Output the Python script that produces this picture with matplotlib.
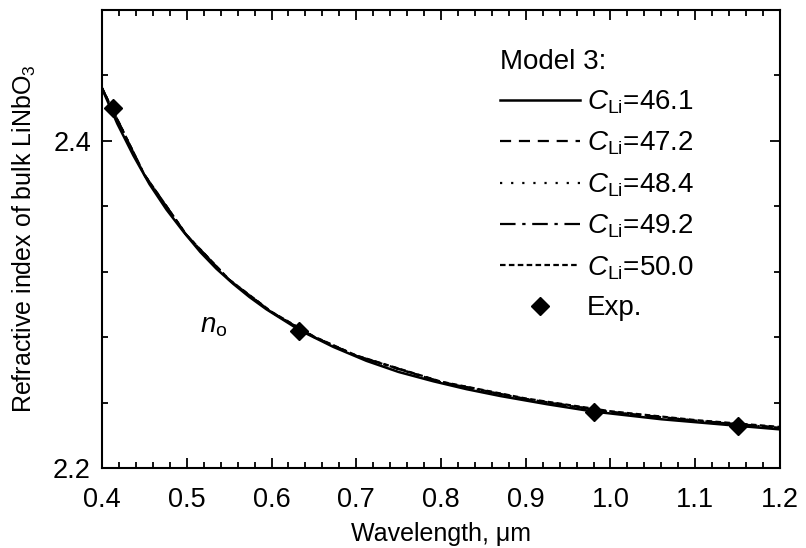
import matplotlib
matplotlib.use('Agg')
import matplotlib.pyplot as plt
from matplotlib.ticker import MultipleLocator, FormatStrFormatter

plt.rcParams['font.family'] = ['Liberation Sans', 'DejaVu Sans']
plt.rcParams['mathtext.fontset'] = 'custom'
plt.rcParams['mathtext.rm'] = 'Liberation Sans'
plt.rcParams['mathtext.it'] = 'Liberation Sans:italic'

## MODEL 3 CURVES (WAVELENGTH IN UM, ORDINARY INDEX)
wl_461 = [0.400, 0.418, 0.437, 0.456, 0.476, 0.496, 0.516, 0.535, 0.555, 0.574,
          0.594, 0.634, 0.673, 0.712, 0.750, 0.791, 0.830, 0.870, 0.925, 0.980,
          1.060, 1.150, 1.200]
n_461 = [2.4320, 2.4105, 2.3910, 2.3735, 2.3580, 2.3445, 2.3320, 2.3218, 2.3125, 2.3045,
         2.2970, 2.2840, 2.2740, 2.2655, 2.2587, 2.2530, 2.2482, 2.2440, 2.2390, 2.2345,
         2.2298, 2.2258, 2.2236]

wl_other = [0.40, 0.45, 0.50, 0.55, 0.60, 0.65, 0.70, 0.80, 0.90, 1.00, 1.10, 1.20]
n_472 = [2.4322, 2.3792, 2.3422, 2.3150, 2.2953, 2.2802, 2.2686, 2.2526, 2.2422, 2.2343, 2.2290, 2.2247]
n_484 = [2.4320, 2.3790, 2.3420, 2.3149, 2.2952, 2.2801, 2.2685, 2.2524, 2.2420, 2.2341, 2.2288, 2.2245]
n_492 = [2.4321, 2.3791, 2.3421, 2.3150, 2.2952, 2.2801, 2.2686, 2.2525, 2.2421, 2.2342, 2.2289, 2.2246]
n_500 = [2.4323, 2.3793, 2.3423, 2.3152, 2.2955, 2.2804, 2.2688, 2.2528, 2.2425, 2.2347, 2.2293, 2.2251]

## EXPERIMENTAL POINTS
wl_exp = [0.4131, 0.6328, 0.9800, 1.1500]
n_exp = [2.4200, 2.2838, 2.2343, 2.2257]

labels = ['46.1', '47.2', '48.4', '49.2', '50.0']

fig = plt.figure(figsize=(8.06, 5.48), dpi=100)
ax = fig.add_axes([0.1266, 0.146, 0.8411, 0.8358])

lw = 1.6
ax.plot(wl_other, n_472, color='black', lw=lw, ls=(0, (5, 3.5)),
        label=r'$C_{\rm Li}$=' + labels[1])
ax.plot(wl_other, n_484, color='black', lw=lw, ls=(0, (1, 4)),
        label=r'$C_{\rm Li}$=' + labels[2])
ax.plot(wl_other, n_492, color='black', lw=lw, ls=(0, (7, 3, 1.5, 3)),
        label=r'$C_{\rm Li}$=' + labels[3])
ax.plot(wl_other, n_500, color='black', lw=lw, ls=(0, (2.5, 1.5)),
        label=r'$C_{\rm Li}$=' + labels[4])
ax.plot(wl_461, n_461, color='black', lw=1.8, ls='-',
        label=r'$C_{\rm Li}$=' + labels[0])
ax.plot(wl_exp, n_exp, ls='none', marker='D', color='black', markersize=9.5,
        label='Exp.')

ax.text(0.5156, 2.2826, r'$n_{\rm o}$', fontsize=20, va='baseline', ha='left')

ax.set_xlim(0.4, 1.2)
ax.set_ylim(2.2, 2.48)
ax.xaxis.set_major_locator(MultipleLocator(0.1))
ax.xaxis.set_minor_locator(MultipleLocator(0.02))
ax.yaxis.set_major_locator(MultipleLocator(0.2))
ax.yaxis.set_minor_locator(MultipleLocator(0.04))
ax.xaxis.set_major_formatter(FormatStrFormatter('%.1f'))
ax.yaxis.set_major_formatter(FormatStrFormatter('%.1f'))
ax.tick_params(which='both', direction='in', top=True, right=True, width=1.3,
               labelsize=19.5)
ax.tick_params(axis='x', which='both', pad=14)
ax.tick_params(axis='y', which='both', pad=8)
ax.tick_params(which='major', length=7)
ax.tick_params(which='minor', length=4.5)
for s in ax.spines.values():
    s.set_linewidth(1.5)

ax.set_xlabel('Wavelength, μm', fontsize=18, labelpad=6)
ax.set_ylabel(r'Refractive index of bulk LiNbO$_3$', fontsize=18, labelpad=11)

## REORDER SO THE SOLID LINE IS FIRST IN THE LEGEND
h, l = ax.get_legend_handles_labels()
order = [4, 0, 1, 2, 3, 5]
leg = ax.legend([h[i] for i in order], [l[i] for i in order], title='Model 3:',
                loc='upper left', bbox_to_anchor=(0.558, 0.958), frameon=False,
                fontsize=20, title_fontsize=20, handlelength=2.88,
                handletextpad=0.25, labelspacing=0.5, alignment='left',
                borderpad=0.2)

fig.savefig('out.png', dpi=100)
